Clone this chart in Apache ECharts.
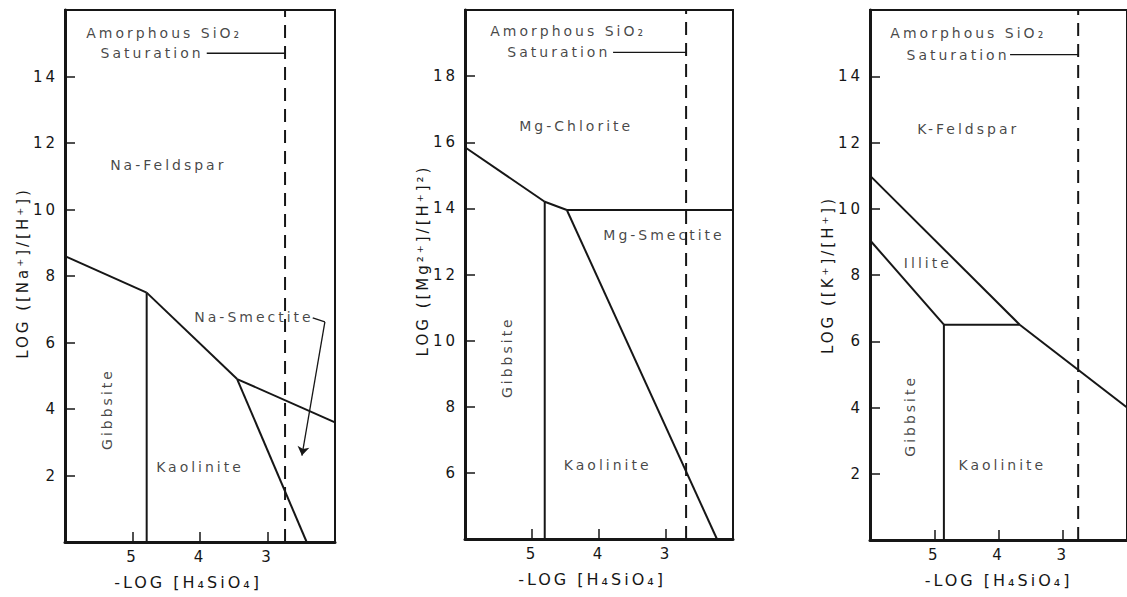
<!DOCTYPE html>
<html>
<head>
<meta charset="utf-8">
<script src="https://cdn.jsdelivr.net/npm/echarts@6/dist/echarts.min.js"></script>
<style>
  html, body { margin: 0; padding: 0; background: #fff; }
  #main { width: 1127px; height: 597px; }
  /* hand-lettered look: widely spaced characters */
  #main svg text { letter-spacing: 3px; }
</style>
</head>
<body>
<div id="main"></div>
<script>
// Tick labels
const X_TICKS = [5, 4, 3];
const NA_Y_TICKS = [2, 4, 6, 8, 10, 12, 14];
const MG_Y_TICKS = [6, 8, 10, 12, 14, 16, 18];
const K_Y_TICKS = [2, 4, 6, 8, 10, 12, 14];

// Na system: phase boundaries [-log H4SiO4, log(Na+/H+)]
const naFeldsparGibbsite = [[6, 8.6], [4.79, 7.5]];
const naGibbsiteKaolinite = [[4.79, 7.5], [4.79, 0]];
const naFeldsparKaolinite = [[4.79, 7.5], [3.45, 4.9]];
const naFeldsparSmectite = [[3.45, 4.9], [2, 3.6]];
const naKaoliniteSmectite = [[3.45, 4.9], [2.42, 0]];
const naSilicaSaturation = 2.74;
const naSaturationLeader = [[3.9, 14.7], [2.74, 14.7]];
const naSmectiteLeader = [[2.33, 6.74], [2.15, 6.62]];
const naSmectiteArrow = [[2.15, 6.62], [2.49, 2.6]];
const naLabels = [
  [4.53, 15.3, 'Amorphous SiO₂'],
  [4.71, 14.7, 'Saturation'],
  [4.47, 11.35, 'Na-Feldspar'],
  [4.0, 2.26, 'Kaolinite'],
  [3.2, 6.77, 'Na-Smectite']
];
const naVerticalLabels = [[5.38, 4.0, 'Gibbsite']];

// Mg system: [-log H4SiO4, log(Mg2+/H+^2)]
const mgChloriteGibbsite = [[6, 15.85], [4.81, 14.2]];
const mgGibbsiteKaolinite = [[4.81, 14.2], [4.81, 4]];
const mgChloriteKaolinite = [[4.81, 14.2], [4.48, 13.95]];
const mgChloriteSmectite = [[4.48, 13.95], [2, 13.95]];
const mgKaoliniteSmectite = [[4.48, 13.95], [2.24, 4]];
const mgSilicaSaturation = 2.70;
const mgSaturationLeader = [[3.79, 18.72], [2.70, 18.72]];
const mgLabels = [
  [4.46, 19.35, 'Amorphous SiO₂'],
  [4.6, 18.72, 'Saturation'],
  [4.34, 16.5, 'Mg-Chlorite'],
  [3.03, 13.2, 'Mg-Smectite'],
  [3.87, 6.25, 'Kaolinite']
];
const mgVerticalLabels = [[5.37, 9.5, 'Gibbsite']];

// K system: [-log H4SiO4, log(K+/H+)]
const kFeldsparIllite = [[6, 11.0], [3.67, 6.5]];
const kFeldsparKaolinite = [[3.67, 6.5], [2, 4.0]];
const kIlliteGibbsite = [[6, 9.05], [4.85, 6.5]];
const kIlliteKaolinite = [[4.85, 6.5], [3.67, 6.5]];
const kGibbsiteKaolinite = [[4.85, 6.5], [4.85, 0]];
const kSilicaSaturation = 2.76;
const kSaturationLeader = [[3.82, 14.65], [2.76, 14.65]];
const kLabels = [
  [4.47, 15.3, 'Amorphous SiO₂'],
  [4.63, 14.65, 'Saturation'],
  [4.47, 12.4, 'K-Feldspar'],
  [5.1, 8.35, 'Illite'],
  [3.94, 2.26, 'Kaolinite']
];
const kVerticalLabels = [[5.38, 3.75, 'Gibbsite']];

const INK = '#161616';
const FONT = 'DejaVu Sans';

const panels = [
  {
    grid: { left: 65, top: 10, width: 270, height: 532 },
    yMin: 0, yMax: 16, yTicks: NA_Y_TICKS,
    yName: 'LOG ([Na⁺]/[H⁺])', yNamePad: [0, 0, 0, 6], xNamePad: [0, 24, 0, 0],
    boundaries: [naFeldsparGibbsite, naGibbsiteKaolinite, naFeldsparKaolinite, naFeldsparSmectite, naKaoliniteSmectite],
    silica: naSilicaSaturation, leader: naSaturationLeader,
    labels: naLabels, vlabels: naVerticalLabels,
    pointer: naSmectiteLeader, arrow: naSmectiteArrow
  },
  {
    grid: { left: 465, top: 10, width: 268, height: 529 },
    yMin: 4, yMax: 20, yTicks: MG_Y_TICKS,
    yName: 'LOG ([Mg²⁺]/[H⁺]²)', yNamePad: [0, 0, 0, 28], xNamePad: [0, 14, 0, 0],
    boundaries: [mgChloriteGibbsite, mgGibbsiteKaolinite, mgChloriteKaolinite, mgChloriteSmectite, mgKaoliniteSmectite],
    silica: mgSilicaSaturation, leader: mgSaturationLeader,
    labels: mgLabels, vlabels: mgVerticalLabels
  },
  {
    grid: { left: 870, top: 10, width: 266, height: 530 },
    yMin: 0, yMax: 16, yTicks: K_Y_TICKS,
    yName: 'LOG ([K⁺]/[H⁺])', yNamePad: [0, 0, 0, 0], xNamePad: [0, 0, 0, 0],
    boundaries: [kFeldsparIllite, kFeldsparKaolinite, kIlliteGibbsite, kIlliteKaolinite, kGibbsiteKaolinite],
    silica: kSilicaSaturation, leader: kSaturationLeader,
    labels: kLabels, vlabels: kVerticalLabels
  }
];

const grids = [], xAxes = [], yAxes = [], series = [];

panels.forEach((p, i) => {
  grids.push(Object.assign({
    show: true, borderColor: INK, borderWidth: 2, backgroundColor: 'transparent'
  }, p.grid));

  xAxes.push({
    type: 'value', gridIndex: i, min: 2, max: 6, inverse: true,
    axisLine: { show: true, onZero: false, lineStyle: { color: INK, width: 3 } },
    axisTick: { show: true, inside: true, length: 10, customValues: X_TICKS, lineStyle: { color: INK, width: 1.5 } },
    axisLabel: { customValues: X_TICKS, margin: 7, color: INK, fontSize: 15, fontFamily: FONT },
    splitLine: { show: false },
    name: '-LOG [H₄SiO₄]', nameLocation: 'middle', nameGap: 32,
    nameTextStyle: { color: INK, fontSize: 16, fontFamily: FONT, padding: p.xNamePad }
  });

  yAxes.push({
    type: 'value', gridIndex: i, min: p.yMin, max: p.yMax,
    axisLine: { show: true, onZero: false, lineStyle: { color: INK, width: 3 } },
    axisTick: { show: true, inside: true, length: 10, customValues: p.yTicks, lineStyle: { color: INK, width: 1.5 } },
    axisLabel: { customValues: p.yTicks, margin: 7, color: INK, fontSize: 15, fontFamily: FONT },
    splitLine: { show: false },
    name: p.yName, nameLocation: 'middle', nameGap: 35, nameRotate: 90,
    nameTextStyle: { color: INK, fontSize: 15, fontFamily: FONT, padding: p.yNamePad }
  });

  // stability field boundaries
  p.boundaries.forEach(seg => {
    series.push({
      type: 'line', xAxisIndex: i, yAxisIndex: i, data: seg,
      symbol: 'none', silent: true,
      lineStyle: { color: INK, width: 2 }
    });
  });

  // amorphous silica saturation
  series.push({
    type: 'line', xAxisIndex: i, yAxisIndex: i,
    data: [[p.silica, p.yMin], [p.silica, p.yMax]],
    symbol: 'none', silent: true,
    lineStyle: { color: INK, width: 2, type: [13, 8] }
  });
  series.push({
    type: 'line', xAxisIndex: i, yAxisIndex: i, data: p.leader,
    symbol: 'none', silent: true,
    lineStyle: { color: INK, width: 1.3 }
  });

  // field names
  series.push({
    type: 'scatter', xAxisIndex: i, yAxisIndex: i, data: p.labels,
    symbolSize: 1, itemStyle: { color: 'transparent' }, silent: true,
    label: {
      show: true, position: 'inside', formatter: d => d.data[2],
      color: INK, fontSize: 14, fontFamily: FONT
    }
  });
  series.push({
    type: 'scatter', xAxisIndex: i, yAxisIndex: i, data: p.vlabels,
    symbolSize: 1, itemStyle: { color: 'transparent' }, silent: true,
    label: {
      show: true, position: 'inside', rotate: 90, formatter: d => d.data[2],
      color: INK, fontSize: 14, fontFamily: FONT
    }
  });

  // pointer from a field name to its narrow field
  if (p.arrow) {
    series.push({
      type: 'line', xAxisIndex: i, yAxisIndex: i, data: p.pointer,
      symbol: 'none', silent: true,
      lineStyle: { color: INK, width: 1.3 }
    });
    series.push({
      type: 'lines', coordinateSystem: 'cartesian2d', xAxisIndex: i, yAxisIndex: i,
      silent: true,
      symbol: ['none', 'arrow'], symbolSize: 9,
      data: [{ coords: p.arrow }],
      lineStyle: { color: INK, width: 1.3, opacity: 1 }
    });
  }
});

const chart = echarts.init(document.getElementById('main'), null, { renderer: 'svg' });
chart.setOption({
  animation: false,
  backgroundColor: '#fff',
  grid: grids,
  xAxis: xAxes,
  yAxis: yAxes,
  series: series
});
</script>
</body>
</html>
